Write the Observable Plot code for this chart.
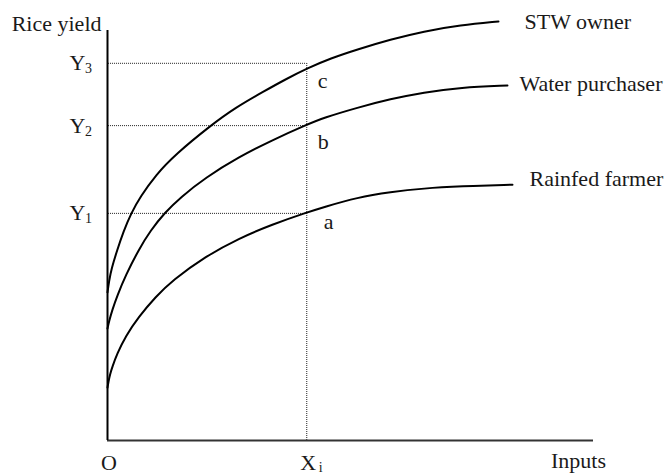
<!DOCTYPE html>
<html><head><meta charset="utf-8">
<script src="https://cdn.jsdelivr.net/npm/d3@7"></script>
<script src="https://cdn.jsdelivr.net/npm/@observablehq/plot@0.6"></script>
<style>body{margin:0;background:#fff;} svg{display:block;}</style>
</head><body><div id="chart"></div>
<script>
// ---- data (abstract units: inputs 0..100, yield 0..100) ----
const seriesNames = ["STW owner", "Water purchaser", "Rainfed farmer"];
const stwInputs   = [0, 0.31, 0.82, 1.95, 3.29, 4.84, 6.79, 9.88, 13.99, 21.19, 26.34, 32.10, 36.63, 41.15, 45.88, 51.44, 58.23, 65.02, 72.63, 80.45];
const stwYield    = [36.1, 38.8, 41.9, 46.3, 51.0, 55.4, 59.5, 64.7, 69.8, 76.8, 81.2, 85.1, 88.1, 90.8, 93.2, 95.4, 97.8, 99.8, 101.3, 102.2];
const waterInputs = [0, 0.31, 0.97, 2.0, 3.70, 6.44, 8.85, 11.73, 15.02, 20.16, 26.95, 33.95, 40.95, 44.44, 51.44, 58.23, 65.02, 72.63, 82.30];
const waterYield  = [27.3, 29.0, 31.8, 35.3, 40.2, 46.6, 51.2, 55.5, 59.3, 64.1, 69.1, 73.3, 77.0, 78.7, 81.2, 83.3, 84.9, 86.1, 86.6];
const rainInputs  = [0, 0.21, 0.51, 0.97, 2.0, 3.70, 6.44, 9.88, 13.31, 20.16, 27.02, 33.89, 40.95, 44.44, 51.44, 58.23, 65.02, 72.63, 83.33];
const rainYield   = [12.9, 14.4, 16.1, 17.9, 21.2, 25.4, 30.2, 35.0, 39.0, 44.9, 49.3, 52.7, 55.6, 56.9, 59.3, 60.6, 61.5, 62.0, 62.4];

const xTickValues = [0, 41];
const xTickLabels = ["O", "X"];
const xTickSubs   = ["", "i"];
const yTickValues = [55.4, 76.8, 92];
const yTickLabels = ["Y", "Y", "Y"];
const yTickSubs   = ["1", "2", "3"];
const pointLabels = ["a", "b", "c"];
const yAxisTitle = "Rice yield";
const xAxisTitle = "Inputs";

// ---- build tables ----
const seriesInputs = [stwInputs, waterInputs, rainInputs];
const seriesYields = [stwYield, waterYield, rainYield];
const curves = seriesNames.flatMap((name, s) =>
  seriesInputs[s].map((x, i) => ({series: name, x, y: seriesYields[s][i]})));
const xi = xTickValues[1];
const yTicks = yTickValues.map((v, i) => ({v, label: yTickLabels[i], sub: yTickSubs[i], pt: pointLabels[i]}));
const xTicks = xTickValues.map((v, i) => ({v, label: xTickLabels[i], sub: xTickSubs[i]}));
const ends = seriesNames.map(name => {
  const pts = curves.filter(d => d.series === name);
  return pts[pts.length - 1];
});

const FONT = "Liberation Serif, Times New Roman, serif";
const INK = "#1a1a1a";
const FS = 22;
const endOffsets = [[26, 0], [12, -1.5], [17, -5.5]];
const ptOffsets = [[17, 8.3], [11, 16.3], [11, 17.3]];

const chart = Plot.plot({
  width: 672, height: 474,
  marginLeft: 107, marginRight: 79, marginTop: 30, marginBottom: 34,
  x: {domain: [0, 100], axis: null},
  y: {domain: [0, 100], axis: null},
  style: {fontFamily: FONT, background: "#fff"},
  marks: [
    // dotted guide lines
    Plot.ruleY(yTicks, {y: "v", x1: 0.2, x2: xi, stroke: "#222", strokeWidth: 1, strokeDasharray: "1,1"}),
    Plot.ruleX([xi], {y1: 0, y2: yTickValues[2], stroke: "#222", strokeWidth: 1, strokeDasharray: "1,1"}),
    // axes
    Plot.ruleY([0], {x1: 0, x2: 100, stroke: "#333", strokeWidth: 2}),
    Plot.ruleX([0], {y1: 0, y2: 100, stroke: "#000", strokeWidth: 2}),
    // curves
    Plot.line(curves, {x: "x", y: "y", z: "series", curve: "basis", stroke: "#000", strokeWidth: 2}),
    // series labels
    ...ends.map((d, i) => Plot.text([d], {x: "x", y: "y", text: "series", textAnchor: "start",
      dx: endOffsets[i][0], dy: endOffsets[i][1], fontSize: FS, fill: INK})),
    // point labels a, b, c
    ...yTicks.map((d, i) => Plot.text([d], {x: () => xi, y: "v", text: "pt", textAnchor: "start",
      dx: ptOffsets[i][0], dy: ptOffsets[i][1], fontSize: FS, fill: INK})),
    // y tick labels with subscripts
    Plot.text(yTicks, {x: () => 0, y: "v", text: "label", textAnchor: "start", dx: -38, fontSize: FS, fill: INK}),
    Plot.text(yTicks, {x: () => 0, y: "v", text: "sub", textAnchor: "start", dx: -22.5, dy: 5.5, fontSize: 14, fill: INK}),
    // x tick labels with subscripts
    Plot.text(xTicks, {x: "v", y: () => 0, text: "label", textAnchor: "middle", dx: 1.5, dy: 22, fontSize: FS, fill: INK}),
    Plot.text(xTicks, {x: "v", y: () => 0, text: "sub", textAnchor: "start", dx: 12, dy: 27, fontSize: 14, fill: INK}),
    // axis titles
    Plot.text([yAxisTitle], {x: () => 0, y: () => 100, text: d => d, textAnchor: "end", dx: -6, dy: -7, fontSize: FS, fill: INK}),
    Plot.text([xAxisTitle], {x: () => 100, y: () => 0, text: d => d, textAnchor: "middle", dx: -15, dy: 20, fontSize: FS, fill: INK})
  ]
});
document.getElementById("chart").appendChild(chart);
</script>
</body></html>
